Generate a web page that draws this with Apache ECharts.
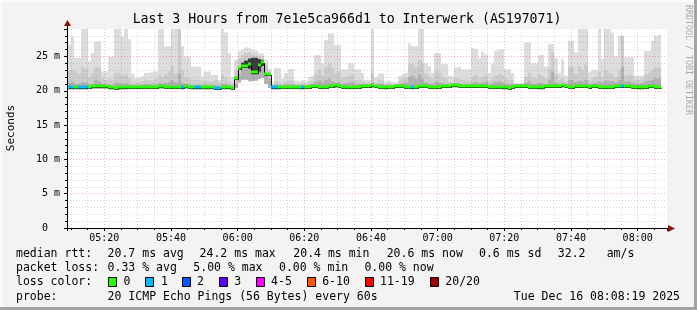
<!DOCTYPE html>
<html><head><meta charset="utf-8">
<script src="https://cdn.jsdelivr.net/npm/echarts@6/dist/echarts.min.js"></script>
<style>html,body{margin:0;padding:0;background:#f3f3f3}#c{width:697px;height:310px}</style>
</head><body><div id="c"></div>
<script>
// ================= DATA =================
// x values are minutes after 05:00; each bar is one 60 s step ending at its stamp
const axisStart = 8.8;        // 05:08:48
const axisEnd = 188.8;        // 08:08:48
const firstBarEnd = 10;       // first step ends 05:10
const yMax = 29;              // ms
const yTickStep = 5;          // ms
const xTickStep = 20;         // minutes

// light smoke top (max ping), ms
const pingMax = [
26.7,27.9,24.8,24.8,29,29,24.3,25.5,27.2,27.2,
22.8,22.8,25.0,25.0,29,29,27.9,29,27.5,22.5,
21.9,21.9,22.1,22.6,22.6,22.8,22.8,29,29,26.5,
26.5,29,29,29,26.5,25.0,25.0,23.5,23.5,23.5,
22.1,22.8,22.8,22.3,22.3,21.6,29,28.5,25.5,22.0,
24.5,25.8,26.0,26.3,26.2,26.0,25.8,25.5,25.4,24.5,
23.2,21.2,23.3,23.3,21.8,22.6,23.2,23.2,21.5,21.4,
21.6,21.4,22.0,22.2,25.2,25.2,24.0,27.4,28.4,28.4,
26.7,26.7,23.1,23.1,24.0,24.0,23.1,23.1,22.6,21.6,
21.6,29,22.0,22.5,22.5,21.3,21.5,21.3,21.2,22.1,
22.4,22.6,26.9,26.5,26.5,29,29,24.0,23.6,22.6,
25.5,25.5,23.9,23.9,22.2,22.1,23.4,23.5,23.1,23.1,
23.1,26.2,26.1,24.8,25.7,25.3,22.6,24.0,25.8,26.0,
26.0,23.1,23.1,22.6,21.1,21.1,21.1,27.0,27.0,24.0,
24.0,25.2,25.2,23.5,26.8,26.8,24.8,22.6,24.6,22.2,
27.3,27.3,25.6,29,29,29,22.7,23.0,23.0,29,
24.6,29,29,28.5,25.0,28.0,28.0,24.9,24.9,24.9,
22.2,22.2,22.2,25.8,25.8,27.3,28.0,28.2];
// medium smoke top, ms
const pingMid = [
23.0,23.0,22.8,22.5,23.5,23.2,22.0,22.5,23.4,23.4,
21.8,21.6,21.8,21.6,22.6,22.6,22.2,22.4,21.8,21.2,
21.2,21.3,21.4,21.6,21.5,21.5,21.7,22.3,22.0,22.4,
22.8,23.6,22.5,29,23.0,22.0,21.8,21.6,21.6,21.6,
21.4,21.5,21.4,21.4,21.6,21.2,22.4,22.0,21.4,21.0,
23.0,24.8,25.2,25.5,25.6,25.3,25.2,25.0,25.0,23.8,
22.8,20.9,21.4,21.2,21.0,21.3,21.5,21.5,21.0,21.0,
21.1,21.0,21.3,21.4,22.5,23.0,22.2,23.5,24.0,23.3,
22.6,22.8,21.8,22.0,22.2,22.4,21.6,21.6,21.4,21.2,
21.2,22.6,21.2,21.6,21.5,21.0,21.1,21.0,21.0,21.5,
21.8,21.9,23.8,24.0,23.5,24.5,24.0,22.5,22.0,21.8,
22.8,22.6,22.0,21.8,21.3,21.3,21.8,21.8,21.6,21.6,
21.5,22.0,22.3,21.8,22.0,22.2,21.4,21.8,22.2,22.5,
22.3,21.8,21.6,21.6,21.0,21.0,21.0,22.0,22.6,21.8,
21.8,22.4,22.2,21.8,23.2,25.6,22.4,21.6,21.8,21.4,
23.5,23.5,22.5,23.5,23.0,23.8,21.5,21.8,22.0,22.8,
22.0,23.0,22.6,22.4,22.0,23.0,28.0,22.2,22.5,22.2,
21.6,21.6,21.8,22.4,22.6,23.0,23.4,23.4];
// dark smoke top, ms
const pingDark = [
21.2,21.3,21.0,21.0,21.3,21.2,20.9,21.0,21.6,21.4,
21.0,20.9,20.9,20.8,21.2,21.2,21.0,21.1,20.9,20.8,
20.8,20.8,20.9,21.0,20.9,20.9,20.9,21.1,21.0,21.1,
21.3,21.5,21.2,22.5,21.2,21.0,20.9,20.8,20.8,20.8,
20.8,20.9,20.8,20.8,20.8,20.7,21.0,21.0,20.8,20.7,
21.0,22.4,23.2,23.4,23.6,23.0,23.0,23.2,23.4,22.4,
21.8,20.8,20.9,20.8,20.8,20.9,20.9,21.0,20.8,20.8,
20.8,20.8,20.9,21.0,21.3,21.5,21.2,21.6,21.8,21.4,
21.2,21.3,21.0,21.1,21.2,21.3,21.0,21.0,21.0,20.9,
20.9,21.2,20.9,21.0,21.0,20.8,20.8,20.8,20.9,21.0,
21.1,21.2,22.0,22.2,21.8,22.4,21.8,21.2,21.0,21.0,
21.3,21.2,21.1,21.0,20.9,21.0,21.1,21.1,21.0,21.0,
21.0,21.2,21.3,21.1,21.2,21.3,20.9,21.1,21.3,21.4,
21.2,21.0,20.9,21.0,20.9,20.9,20.9,21.2,21.4,21.0,
21.0,21.2,21.1,21.0,21.6,22.8,21.2,21.0,21.1,21.0,
21.6,21.6,21.3,21.5,21.4,21.6,21.0,21.1,21.2,21.4,
21.2,21.5,21.4,21.4,21.2,21.6,23.5,21.3,21.4,21.2,
21.0,21.0,21.1,21.4,21.5,21.6,21.8,21.8];
// smoke bottom (min ping), ms
const pingMin = [
20.2,20.2,20.2,20.2,20.2,20.2,20.3,20.3,20.3,20.3,
20.3,20.3,20.2,20.2,20.1,20.2,20.2,20.2,20.3,20.3,
20.3,20.3,20.3,20.3,20.3,20.3,20.3,20.3,20.3,20.3,
20.3,20.3,20.3,20.3,20.2,20.3,20.3,20.2,20.2,20.2,
20.2,20.2,20.2,20.2,20.1,20.1,20.3,20.2,20.2,20.1,
20.4,21.2,21.6,21.6,21.4,21.4,21.5,21.7,21.9,21.0,
20.4,20.2,20.2,20.2,20.3,20.3,20.3,20.3,20.3,20.2,
20.2,20.3,20.3,20.4,20.4,20.3,20.3,20.3,20.4,20.4,
20.4,20.4,20.3,20.3,20.3,20.3,20.3,20.3,20.4,20.4,
20.4,20.4,20.4,20.3,20.3,20.2,20.3,20.3,20.4,20.4,
20.4,20.3,20.3,20.2,20.3,20.4,20.4,20.4,20.3,20.3,
20.3,20.3,20.4,20.4,20.4,20.5,20.5,20.4,20.4,20.4,
20.4,20.4,20.4,20.4,20.4,20.4,20.3,20.3,20.3,20.3,
20.2,20.2,20.1,20.3,20.4,20.4,20.4,20.4,20.3,20.3,
20.3,20.2,20.2,20.4,20.4,20.4,20.4,20.4,20.5,20.4,
20.3,20.3,20.4,20.4,20.4,20.4,20.3,20.4,20.4,20.3,
20.3,20.3,20.3,20.3,20.4,20.4,20.4,20.4,20.4,20.3,
20.3,20.2,20.2,20.3,20.4,20.4,20.3,20.3];
// darkest smoke core (only during the 06:00 bump)
const coreMinute = [62,63,64,65,66,67,68];
const coreLo = [23.4,23.4,23.2,22.4,22.4,22.8,23.6];
const coreHi = [24.1,24.4,24.7,24.8,24.8,24.6,24.5];
// median rtt, ms
const median = [
20.5,20.5,20.6,20.5,20.5,20.5,20.6,20.7,20.7,20.7,
20.7,20.7,20.6,20.5,20.4,20.5,20.5,20.5,20.6,20.6,
20.6,20.6,20.6,20.6,20.6,20.6,20.6,20.7,20.7,20.6,
20.6,20.6,20.6,20.6,20.5,20.7,20.6,20.5,20.5,20.5,
20.5,20.5,20.5,20.5,20.4,20.4,20.6,20.5,20.5,20.4,
21.9,23.3,23.6,23.6,23.9,22.7,22.7,23.8,24.2,22.5,
22.4,20.5,20.5,20.5,20.6,20.6,20.6,20.6,20.6,20.5,
20.5,20.6,20.6,20.7,20.7,20.6,20.6,20.6,20.7,20.7,
20.8,20.7,20.6,20.6,20.6,20.6,20.6,20.6,20.7,20.7,
20.7,20.8,20.7,20.6,20.6,20.5,20.6,20.6,20.7,20.7,
20.7,20.6,20.6,20.5,20.6,20.7,20.7,20.7,20.6,20.6,
20.6,20.6,20.7,20.7,20.7,20.8,20.8,20.7,20.7,20.7,
20.7,20.7,20.7,20.7,20.7,20.7,20.6,20.6,20.6,20.6,
20.5,20.5,20.4,20.6,20.7,20.7,20.7,20.7,20.6,20.6,
20.6,20.5,20.5,20.7,20.7,20.7,20.7,20.7,20.8,20.7,
20.6,20.6,20.7,20.7,20.7,20.7,20.6,20.7,20.7,20.6,
20.6,20.6,20.6,20.6,20.7,20.7,20.7,20.7,20.7,20.6,
20.6,20.5,20.5,20.6,20.7,20.7,20.6,20.6];
// lost pings (of 20) per step
const lostPings = [
1,1,0,1,1,1,0,0,0,0, 0,0,0,0,0,0,0,0,0,0, 0,0,0,0,0,0,0,0,0,0,
0,0,0,0,1,0,0,0,1,1, 0,0,0,0,1,1,0,0,0,0, 0,0,0,0,0,0,0,0,0,0,
0,1,1,0,0,0,0,0,0,0, 1,0,0,0,0,0,0,0,0,0, 0,0,0,0,0,0,0,0,0,0,
0,0,0,0,0,0,0,0,0,0, 0,0,0,1,0,0,0,0,0,0, 0,0,0,0,0,0,0,0,0,0,
0,0,0,0,0,0,0,0,0,0, 0,0,0,0,0,0,0,0,0,0, 0,0,0,0,0,0,0,0,0,0,
0,0,0,0,0,0,0,0,0,0, 0,0,0,0,0,0,1,0,0,0, 0,0,0,0,0,0,0,0];

const lossLabels = ['0','1','2','3','4-5','6-10','11-19','20/20'];
const lossUpper  = [0,1,2,3,5,10,19,20];

const titleText = 'Last 3 Hours from 7e1e5ca966d1 to Interwerk (AS197071)';
const yAxisTitle = 'Seconds';
const rttHeading = 'median rtt:';
const rttItems = ['20.7 ms avg','24.2 ms max','20.4 ms min','20.6 ms now','0.6 ms sd','32.2','am/s'];
const lossHeading = 'packet loss:';
const lossItems = ['0.33 % avg','5.00 % max','0.00 % min','0.00 % now'];
const colorHeading = 'loss color:';
const probeHeading = 'probe:';
const probeText = '20 ICMP Echo Pings (56 Bytes) every 60s';
const stampText = 'Tue Dec 16 08:08:19 2025';
const watermark = 'RRDTOOL / TOBI OETIKER';

// ================= STYLE / LAYOUT =================
const lossColors = ['#26ff00','#00b8ff','#0059ff','#5e00ff','#ff00ff','#ff5500','#ff0000','#a10000'];
const MONO = '"DejaVu Sans Mono", monospace';
const legendFont = '11.5px ' + MONO;
const rttX = [107.6,199.6,293.3,386.7,479,557.8,606.7];
const lossX = [107.6,193.3,279,364.4];
const boxX = [108,145,182,219,256,307,365,430];
const boxLabelX = [123.6,160.9,196.9,234.2,271.1,322.2,380,445.3];
const rowY = [254.5,268.5,282.5,297];

function lossBin(n){ for (let k=0;k<lossUpper.length;k++) if (n<=lossUpper[k]) return k; return lossUpper.length-1; }
const barEnd = pingMax.map((_, i) => firstBarEnd + i);
const smokeData = barEnd.map((t,i) => [t, pingMin[i], pingMax[i], pingMid[i], pingDark[i]]);
const coreData = coreMinute.map((t,k) => [t, coreLo[k], coreHi[k]]);
const medianData = barEnd.map((t,i) => [t, median[i], i>0 ? median[i-1] : median[i], lossBin(lostPings[i])]);

function rectBetween(api, t0, t1, lo, hi, fill){
  const a = api.coord([t0, hi]), b = api.coord([t1, lo]);
  const x0 = Math.round(a[0]), x1 = Math.round(b[0]);
  return {type:'rect', shape:{x:x0, y:a[1], width:x1-x0, height:b[1]-a[1]}, style:{fill:fill}};
}
function smokeItem(params, api){
  const t1 = api.value(0), t0 = t1 - 1, lo = api.value(1);
  return {type:'group', children:[
    rectBetween(api,t0,t1,lo,api.value(2),'#dddddd'),
    rectBetween(api,t0,t1,lo,api.value(3),'#cbcbcb'),
    rectBetween(api,t0,t1,lo,api.value(4),'#b0b0b0')
  ]};
}
function coreItem(params, api){
  const t1 = api.value(0);
  return rectBetween(api, t1-1, t1, api.value(1), api.value(2), '#3a3a3a');
}
function medianItem(params, api){
  const t1 = api.value(0), t0 = t1 - 1;
  const a = api.coord([t0, api.value(1)]), b = api.coord([t1, api.value(1)]), p = api.coord([t0, api.value(2)]);
  const x0 = Math.round(a[0]), x1 = Math.round(b[0]);
  const yc = Math.round(a[1]), yp = Math.round(p[1]);
  return {type:'group', children:[
    {type:'polyline', shape:{points:[[x0+0.5,yp+1.5],[x0+0.5,yc+1.5],[x1+0.5,yc+1.5]]}, style:{stroke:'#000', lineWidth:1, fill:null}},
    {type:'rect', shape:{x:x0, y:yc-1.5, width:x1-x0, height:3}, style:{fill:lossColors[api.value(3)]}}
  ]};
}
function hhmm(v){ const h = 5 + Math.floor(v/60), m = v % 60; return String(h).padStart(2,'0')+':'+String(m).padStart(2,'0'); }

const txt = (x, y, text, extra) => Object.assign({type:'text', x:x, y:y, silent:true,
  style:{text:text, font:legendFont, fill:'#000', align:'left', verticalAlign:'middle'}}, extra||{});

const graphics = [
  // 3D frame
  {type:'rect', shape:{x:0,y:0,width:697,height:2}, style:{fill:'#fbfbfb'}, silent:true},
  {type:'rect', shape:{x:0,y:0,width:2,height:310}, style:{fill:'#fbfbfb'}, silent:true},
  {type:'rect', shape:{x:0,y:307,width:697,height:3}, style:{fill:'#a3a3a3'}, silent:true},
  {type:'rect', shape:{x:694,y:0,width:3,height:310}, style:{fill:'#a3a3a3'}, silent:true},
  // axis extensions and arrows
  {type:'line', shape:{x1:67.5,y1:29,x2:67.5,y2:25}, style:{stroke:'#000',lineWidth:1}, silent:true, z:10},
  {type:'polygon', shape:{points:[[67.5,20],[64,26],[71,26]]}, style:{fill:'#8b1010'}, silent:true, z:10},
  {type:'line', shape:{x1:667,y1:228.5,x2:669,y2:228.5}, style:{stroke:'#000',lineWidth:1}, silent:true, z:10},
  {type:'polygon', shape:{points:[[675,228.5],[668,225],[668,232]]}, style:{fill:'#8b1010'}, silent:true, z:10},
  // title
  {type:'text', x:347, y:20, silent:true, style:{text:titleText, font:'13.2px '+MONO, fill:'#000', align:'center', verticalAlign:'middle'}},
  // y axis title
  {type:'text', x:11, y:128, rotation:Math.PI/2, silent:true, style:{text:yAxisTitle, font:'11px '+MONO, fill:'#000', align:'center', verticalAlign:'middle'}},
  // watermark
  {type:'text', x:688, y:60, rotation:-Math.PI/2, silent:true, style:{text:watermark, font:'8.3px '+MONO, fill:'#aaaaaa', align:'center', verticalAlign:'middle'}},
  txt(16, rowY[0], rttHeading),
  txt(16, rowY[1], lossHeading),
  txt(16, rowY[2], colorHeading),
  txt(16, rowY[3], probeHeading),
  txt(107.6, rowY[3], probeText),
  {type:'text', x:680, y:rowY[3], silent:true, style:{text:stampText, font:legendFont, fill:'#000', align:'right', verticalAlign:'middle'}}
];
rttItems.forEach((s,k) => graphics.push(txt(rttX[k], rowY[0], s)));
lossItems.forEach((s,k) => graphics.push(txt(lossX[k], rowY[1], s)));
lossLabels.forEach((s,k) => {
  graphics.push({type:'rect', silent:true, shape:{x:boxX[k]+0.5, y:277.5, width:8, height:9}, style:{fill:lossColors[k], stroke:'#000', lineWidth:1}});
  graphics.push(txt(boxLabelX[k], rowY[2], s));
});

const majorGrid = {color:'rgba(255,0,0,0.3)', width:1, type:[1,2]};
const minorGrid = {color:'rgba(120,120,120,0.28)', width:1, type:[1,2]};

const option = {
  animation:false,
  backgroundColor:'#f3f3f3',
  grid:{left:67, right:30, top:29, bottom:82, show:true, backgroundColor:'#ffffff', borderWidth:0},
  xAxis:{type:'value', min:axisStart, max:axisEnd, splitNumber:9, z:5,
    axisLine:{show:true, onZero:false, lineStyle:{color:'#000', width:1}},
    axisTick:{show:true, length:3, lineStyle:{color:'#000'}},
    minorTick:{show:true, splitNumber:4, length:2, lineStyle:{color:'#000'}},
    axisLabel:{show:true, margin:5, showMinLabel:false, showMaxLabel:false, fontFamily:MONO, fontSize:10, color:'#000',
      formatter:v => (Math.abs(v % xTickStep) < 1e-6 ? hhmm(v) : '')},
    splitLine:{show:true, showMinLine:false, showMaxLine:false, lineStyle:majorGrid},
    minorSplitLine:{show:true, lineStyle:minorGrid}
  },
  yAxis:{type:'value', min:0, max:yMax, interval:yTickStep, z:5,
    axisLine:{show:true, onZero:false, lineStyle:{color:'#000', width:1}},
    axisTick:{show:true, length:3, lineStyle:{color:'#000'}},
    minorTick:{show:true, splitNumber:5, length:2, lineStyle:{color:'#000'}},
    axisLabel:{show:true, margin:7, showMaxLabel:false, fontFamily:MONO, fontSize:10, color:'#000',
      formatter:v => (v === 0 ? '0  ' : (Math.abs(v % yTickStep) < 1e-6 ? v + ' m' : ''))},
    splitLine:{show:true, showMinLine:false, showMaxLine:false, lineStyle:majorGrid},
    minorSplitLine:{show:true, lineStyle:minorGrid}
  },
  graphic:graphics,
  series:[
    {type:'custom', name:'smoke', renderItem:smokeItem, data:smokeData, clip:true, encode:{x:0, y:[1,2]}, silent:true},
    {type:'custom', name:'core', renderItem:coreItem, data:coreData, clip:true, encode:{x:0, y:[1,2]}, silent:true},
    {type:'custom', name:'median', renderItem:medianItem, data:medianData, clip:true, encode:{x:0, y:1}, silent:true}
  ]
};
const chart = echarts.init(document.getElementById('c'), null, {renderer:'canvas'});
chart.setOption(option);
</script></body></html>
